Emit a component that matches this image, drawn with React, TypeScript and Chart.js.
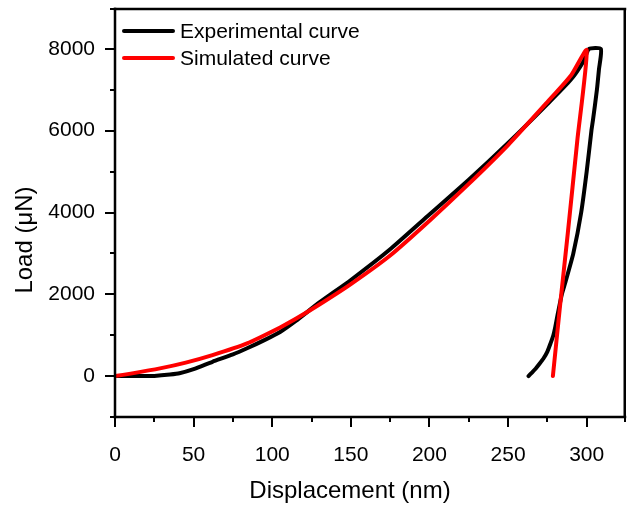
import { useEffect, useRef } from "react";
import { Chart, registerables } from "chart.js";

Chart.register(...registerables);

// Experimental curve (loading, hold, unloading)
const expDisplacement = [
  0, 10, 20, 25, 35, 41, 50, 62, 75, 84, 95, 105, 115, 130, 150, 175, 200, 225, 250, 275, 290, 298, 301.5,
  309, 307.8, 306.5, 304, 303, 300, 296.5, 291.5, 286.5, 284.2, 281.5, 280, 278.8, 277, 275, 272.5, 270, 267.5, 265, 263,
];
const expLoad = [
  0, 0, 0, 5, 40, 70, 170, 350, 530, 680, 880, 1080, 1350, 1800, 2350, 3100, 3950, 4800, 5700, 6650, 7250, 7700, 8000,
  8000, 7500, 7000, 6260, 6000, 5000, 4000, 3000, 2300, 2000, 1500, 1200, 1000, 800, 600, 430, 300, 180, 80, 0,
];

// Simulated curve
const simDisplacement = [
  0, 10, 28.6, 45, 62, 84, 105, 115, 130, 150, 175, 200, 225, 250, 275, 290, 300,
  294, 288, 283, 278.5,
];
const simLoad = [
  0, 60, 188, 330, 513, 800, 1190, 1400, 1750, 2250, 2950, 3800, 4700, 5650, 6700, 7350, 7970,
  5750, 3500, 1700, 0,
];

const seriesLabels = ["Experimental curve", "Simulated curve"];
const seriesColors = ["#000000", "#ff0000"];

const xTickValues = [0, 50, 100, 150, 200, 250, 300];
const xMinorTickValues = [25, 75, 125, 175, 225, 275, 325];
const yTickValues = [0, 2000, 4000, 6000, 8000];
const yMinorTickValues = [-1000, 1000, 3000, 5000, 7000, 9000];

const xTitle = "Displacement (nm)";
const yTitle = "Load (\u03bcN)";

const FONT = "Arial, 'Liberation Sans', sans-serif";

const toPoints = (xs: number[], ys: number[]) => xs.map((x, i) => ({ x, y: ys[i] }));

const framePlugin = {
  id: "framePlugin",
  afterDraw(chart: any) {
    const { ctx, chartArea } = chart;
    const left = Math.round(chartArea.left);
    const right = Math.round(chartArea.right) - 1;
    const top = Math.round(chartArea.top) + 1;
    const bottom = Math.round(chartArea.bottom);
    const xs = chart.scales.x;
    const ys = chart.scales.y;
    ctx.save();
    ctx.strokeStyle = "#000000";
    ctx.fillStyle = "#000000";
    ctx.lineWidth = 2.5;
    ctx.lineCap = "square";
    const seg = (x1: number, y1: number, x2: number, y2: number) => {
      ctx.beginPath();
      ctx.moveTo(x1, y1);
      ctx.lineTo(x2, y2);
      ctx.stroke();
    };
    seg(left, top, right, top);
    seg(left, bottom, right, bottom);
    seg(left, top, left, bottom);
    // right border as a filled rectangle
    ctx.fillRect(right - 1.5, top - 1, 2.5, bottom - top + 2);
    ctx.lineWidth = 2;
    ctx.lineCap = "butt";
    xTickValues.forEach((v) => {
      const p = Math.round(xs.getPixelForValue(v));
      seg(p, bottom, p, bottom + 10);
    });
    xMinorTickValues.forEach((v) => {
      const p = Math.min(Math.round(xs.getPixelForValue(v)), right);
      seg(p, bottom, p, bottom + 5);
    });
    yTickValues.forEach((v) => {
      const p = Math.round(ys.getPixelForValue(v));
      seg(left, p, left - 10, p);
    });
    yMinorTickValues.forEach((v) => {
      const p = Math.max(Math.round(ys.getPixelForValue(v)), top);
      seg(left, p, left - 5, p);
    });

    // axis titles
    ctx.fillStyle = "#000";
    ctx.font = `24px ${FONT}`;
    ctx.textAlign = "center";
    ctx.textBaseline = "middle";
    ctx.fillText(xTitle, 350, 491);
    ctx.save();
    ctx.translate(25, 240);
    ctx.rotate(-Math.PI / 2);
    ctx.fillText(yTitle, 0, 0);
    ctx.restore();

    // legend
    ctx.font = `21px ${FONT}`;
    ctx.textAlign = "left";
    seriesLabels.forEach((label, i) => {
      const y = 31 + i * 27;
      ctx.strokeStyle = seriesColors[i];
      ctx.lineWidth = 4;
      ctx.lineCap = "round";
      seg(124, y, 173, y);
      ctx.fillStyle = "#000";
      ctx.fillText(label, 180, y + 1);
    });
    ctx.restore();
  },
};

export default function App() {
  const canvasRef = useRef<HTMLCanvasElement | null>(null);

  useEffect(() => {
    if (!canvasRef.current) return;
    const chart = new Chart(canvasRef.current, {
      type: "scatter",
      data: {
        datasets: [
          {
            label: seriesLabels[0],
            data: toPoints(expDisplacement, expLoad),
            showLine: true,
            borderColor: seriesColors[0],
            backgroundColor: seriesColors[0],
            borderWidth: 4,
            pointRadius: 0,
            tension: 0.2,
            borderJoinStyle: "round",
            borderCapStyle: "round",
            order: 1,
          },
          {
            label: seriesLabels[1],
            data: toPoints(simDisplacement, simLoad),
            showLine: true,
            borderColor: seriesColors[1],
            backgroundColor: seriesColors[1],
            borderWidth: 4,
            pointRadius: 0,
            tension: 0.2,
            borderJoinStyle: "round",
            borderCapStyle: "round",
            order: 0,
          },
        ],
      },
      options: {
        animation: false,
        responsive: false,
        maintainAspectRatio: false,
        layout: { padding: { left: 0, top: 8, right: 4, bottom: 0 } },
        plugins: {
          legend: { display: false },
          tooltip: { enabled: false },
        },
        scales: {
          x: {
            type: "linear",
            min: 0,
            max: 325,
            grid: { display: false, drawTicks: false },
            border: { display: false },
            afterBuildTicks: (scale: any) => {
              scale.ticks = xTickValues.map((value) => ({ value }));
            },
            afterFit: (scale: any) => {
              scale.height = 88;
              scale.paddingLeft = 0;
              scale.paddingRight = 0;
            },
            ticks: {
              color: "#000",
              font: { family: FONT, size: 21 },
              padding: 26,
              maxRotation: 0,
              autoSkip: false,
              callback: (v: any) => String(v),
            },
          },
          y: {
            type: "linear",
            min: -1000,
            max: 9000,
            grid: { display: false, drawTicks: false },
            border: { display: false },
            afterBuildTicks: (scale: any) => {
              scale.ticks = yTickValues.map((value) => ({ value }));
            },
            afterFit: (scale: any) => {
              scale.width = 115;
              scale.paddingTop = 0;
              scale.paddingBottom = 0;
            },
            ticks: {
              color: "#000",
              font: { family: FONT, size: 21 },
              padding: 20,
              autoSkip: false,
              callback: (v: any) => String(v),
            },
          },
        },
      },
      plugins: [framePlugin],
    });
    return () => chart.destroy();
  }, []);

  return (
    <div style={{ position: "fixed", left: 0, top: 0, width: 630, height: 505, background: "#fff" }}>
      <canvas ref={canvasRef} width={630} height={505} style={{ display: "block", width: 630, height: 505 }} />
    </div>
  );
}
